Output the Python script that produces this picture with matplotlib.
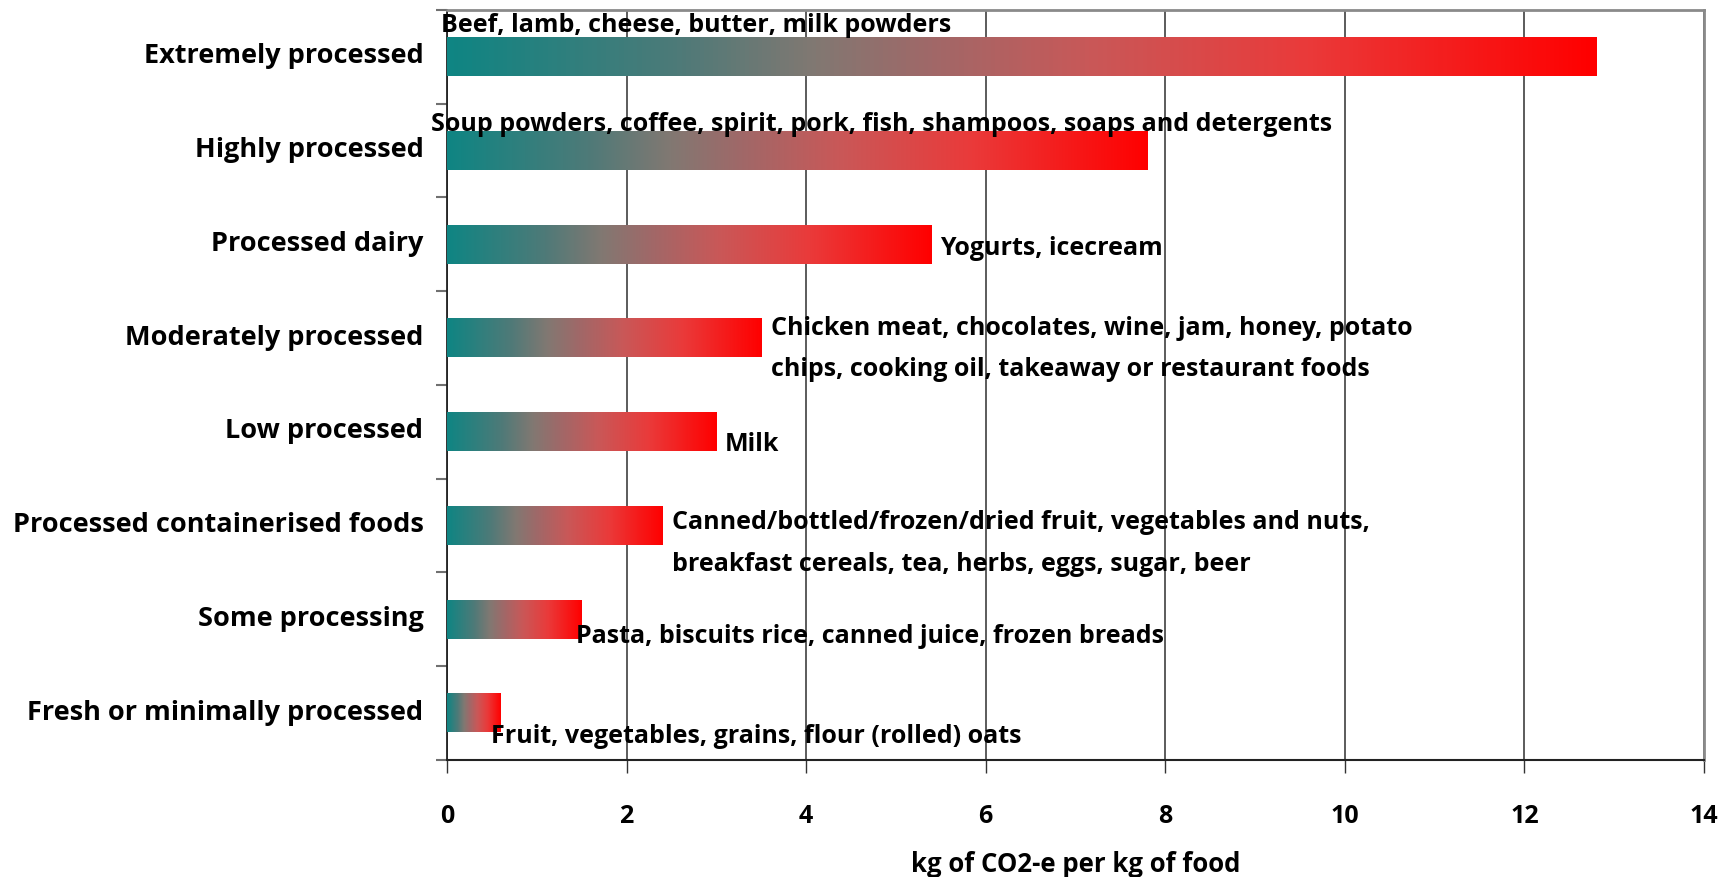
import numpy as np
import matplotlib
matplotlib.use("Agg")
import matplotlib.pyplot as plt
from matplotlib.colors import LinearSegmentedColormap
from matplotlib.transforms import ScaledTranslation

# Data, bottom to top
categories = [
    "Fresh or minimally processed",
    "Some processing",
    "Processed containerised foods",
    "Low processed",
    "Moderately processed",
    "Processed dairy",
    "Highly processed",
    "Extremely processed",
]
co2_per_kg = [0.6, 1.5, 2.4, 3.0, 3.5, 5.4, 7.8, 12.8]
examples = [
    "Fruit, vegetables, grains, flour (rolled) oats",
    "Pasta, biscuits rice, canned juice, frozen breads",
    "Canned/bottled/frozen/dried fruit, vegetables and nuts,\nbreakfast cereals, tea, herbs, eggs, sugar, beer",
    "Milk",
    "Chicken meat, chocolates, wine, jam, honey, potato\nchips, cooking oil, takeaway or restaurant foods",
    "Yogurts, icecream",
    "Soup powders, coffee, spirit, pork, fish, shampoos, soaps and detergents",
    "Beef, lamb, cheese, butter, milk powders",
]
x_ticks = [0, 2, 4, 6, 8, 10, 12, 14]
x_label = "kg of CO2-e per kg of food"

# where each label was dragged to (x in data units, y offset from bar centre)
label_x = [0.49, 1.44, 2.51, 3.09, 3.61, 5.49, -0.18, -0.07]
label_dy = [-0.24, -0.17, -0.18, -0.12, -0.11, -0.03, 0.29, 0.35]

FONT = "Open Sans"
FW = "bold"

# teal -> grey -> red fill like the old Excel gradient
grad = LinearSegmentedColormap.from_list("tealred", [
    (0.00, "#0f8583"),
    (0.20, "#4e7a78"),
    (0.32, "#827872"),
    (0.42, "#a06868"),
    (0.56, "#c95858"),
    (0.75, "#ea3a3a"),
    (1.00, "#ff0000"),
])

fig = plt.figure(figsize=(17.34, 8.78), dpi=100)
ax = fig.add_axes([0.2578, 0.1333, 0.9827 - 0.2578, 0.9875 - 0.1333])

ypos = np.arange(len(categories))
bar_h = 0.41
ramp = np.linspace(0, 1, 256).reshape(1, -1)
for y, v in zip(ypos, co2_per_kg):
    ax.imshow(ramp, extent=[0, v, y - bar_h / 2, y + bar_h / 2],
              aspect="auto", cmap=grad, zorder=3, interpolation="bilinear")

for y, txt, lx, dy in zip(ypos, examples, label_x, label_dy):
    ax.text(lx, y + dy, txt, ha="left", va="center", fontsize=18,
            family=FONT, fontweight=FW, linespacing=1.85, zorder=4)

ax.set_xlim(0, 14)
ax.set_ylim(-0.5, len(categories) - 0.5)

ax.set_xticks(x_ticks)
ax.set_xticklabels([str(t) for t in x_ticks], fontsize=18, family=FONT, fontweight=FW)
ax.tick_params(axis="x", direction="out", length=9, width=1, color="#333333", pad=22)

# category names on minor ticks, tick marks on the boundaries
ax.set_yticks(np.arange(-0.5, len(categories), 1.0))
ax.set_yticklabels([])
ax.tick_params(axis="y", which="major", direction="out", length=8, width=1.5, color="#707070")
ax.set_yticks(ypos, minor=True)
ax.set_yticklabels(categories, minor=True, fontsize=19.5, family=FONT, fontweight=FW)
ax.tick_params(axis="y", which="minor", length=0, pad=17)
# names sit a little above the bar centres in the original
nudge = ScaledTranslation(0, 0.045, fig.dpi_scale_trans)
for lbl in ax.get_yticklabels(minor=True):
    lbl.set_transform(lbl.get_transform() + nudge)

ax.set_xlabel(x_label, fontsize=18.5, family=FONT, fontweight=FW, labelpad=16)

ax.grid(axis="x", color="#404040", linewidth=1.2, zorder=1)
ax.set_axisbelow(True)
for side in ("top", "right"):
    ax.spines[side].set_color("#8a8a8a")
    ax.spines[side].set_linewidth(2)
ax.spines["left"].set_color("#222222")
ax.spines["left"].set_linewidth(1.3)
ax.spines["bottom"].set_color("#222222")
ax.spines["bottom"].set_linewidth(1.5)

fig.savefig("out.png", dpi=100)
